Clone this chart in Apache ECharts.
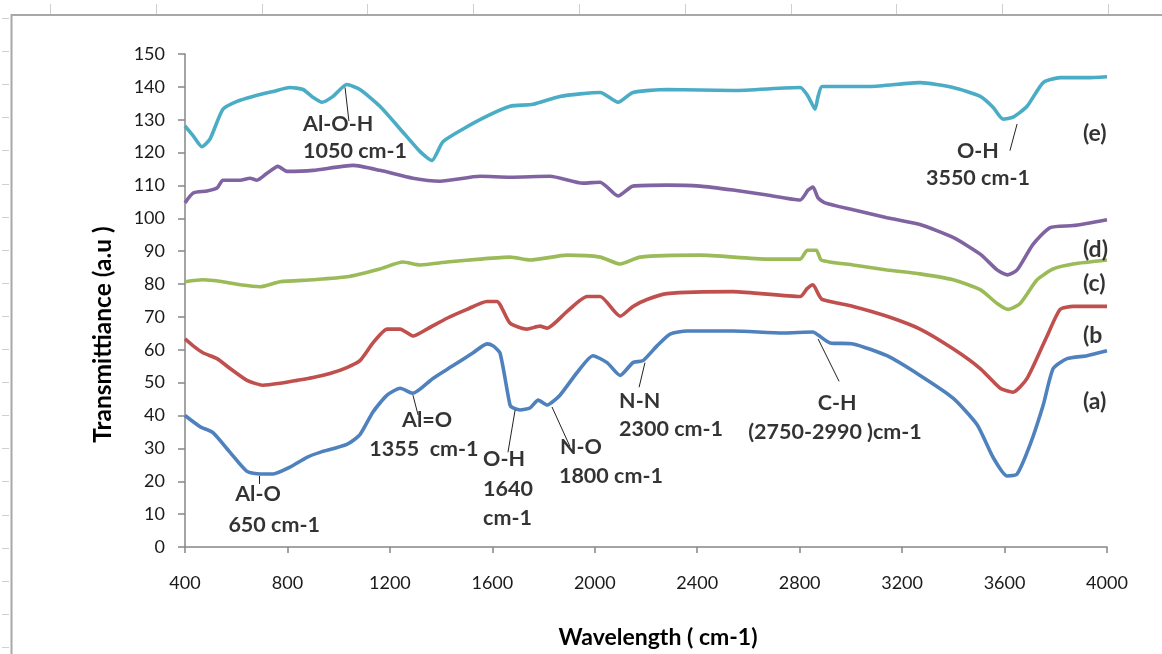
<!DOCTYPE html>
<html>
<head>
<meta charset="utf-8">
<script src="https://cdn.jsdelivr.net/npm/echarts@6/dist/echarts.min.js"></script>
<style>
html,body{margin:0;padding:0;background:#fff;}
#chart{width:1162px;height:654px;}
</style>
</head>
<body>
<div id="chart"></div>
<script>
// ---- data ----
const xTicks = [400, 4000, 400];   // min, max, interval
const yTicks = [0, 150, 10];

const waveA = [400,459,509,576,642,693,744,810,876,927,1032,1083,1134,1189,1240,1290,1368,1447,1525,1579,1603,1630,1669,1681,1708,1747,1779,1814,1864,1931,1993,2048,2099,2149,2188,2243,2294,2360,2540,2735,2852,2872,2919,3009,3141,3270,3399,3493,3555,3610,3649,3700,3751,3790,3844,3922,4000];
const transA = [40,36.6,34.8,28.8,23,22.2,22.2,24.3,27.3,28.8,31.2,34.2,41.1,46.2,48.3,46.8,51.3,55.2,59.1,61.8,61.2,59,43.2,42.3,41.7,42.3,44.7,43.2,46.2,53.1,58.2,56.1,52.2,56.1,56.7,61.2,64.8,65.7,65.7,65.1,65.4,64.5,62.1,61.8,58.2,52.2,45.3,37.2,27.3,21.6,22.2,31.2,43.2,54.3,57.3,58.2,59.7];

const waveB = [400,432,470,525,576,642,705,771,837,900,966,1032,1083,1134,1189,1240,1290,1345,1423,1501,1579,1618,1669,1735,1786,1814,1892,1970,2021,2099,2149,2204,2282,2540,2802,2829,2852,2872,2888,3009,3141,3270,3399,3505,3583,3633,3688,3766,3817,3868,4000];
const transB = [63.3,61.2,59.1,57.3,54.3,50.7,49.2,49.8,50.7,51.6,52.8,54.6,56.7,62.1,66.3,66.3,64.2,66.3,69.6,72.3,74.7,74.7,68.1,66.3,67.2,66.6,71.7,76.2,76.2,70.2,73.2,75.3,77.1,77.7,76.2,78.6,79.8,77.1,75.3,73.2,70.2,66.3,60.3,54.3,48.3,47.1,51.3,64.2,72.3,73.2,73.2];

const waveC = [400,470,548,615,693,771,900,1032,1161,1251,1318,1423,1552,1669,1747,1892,2021,2099,2177,2411,2673,2802,2830,2865,2885,3009,3141,3270,3399,3505,3571,3614,3661,3727,3790,3868,4000];
const transC = [80.7,81.3,80.7,79.8,79.2,80.7,81.3,82.2,84.6,86.7,85.8,86.7,87.6,88.2,87.3,88.8,88.2,86.1,88.2,88.8,87.6,87.6,90.3,90.3,87.3,85.8,84.3,83.1,81.3,78.3,74.1,72.3,74.1,81.3,84.6,86.1,87.3];

const waveD = [400,432,486,525,548,615,654,681,720,763,798,900,1056,1161,1290,1396,1552,1669,1825,1954,2021,2091,2149,2282,2411,2540,2673,2802,2833,2852,2872,2899,3009,3141,3270,3399,3505,3571,3610,3649,3711,3778,3868,4000];
const transD = [104.7,107.7,108.3,109.2,111.6,111.6,112.2,111.6,113.7,115.8,114.3,114.6,116.1,114.6,112.2,111.3,112.8,112.5,112.8,110.7,111,106.8,109.8,110.1,109.8,108.6,107.1,105.6,108.6,109.5,106.2,104.7,102.6,100.2,98.1,94.2,89.1,84.3,82.8,84.3,92.1,97.2,97.8,99.6];

const waveE = [400,432,466,498,548,603,665,744,810,861,900,935,978,1032,1083,1161,1240,1318,1364,1407,1486,1579,1669,1759,1864,2021,2091,2149,2282,2540,2802,2833,2860,2872,2888,3075,3270,3399,3505,3555,3594,3633,3688,3751,3817,3922,4000];
const transE = [128.1,125.1,121.8,124.2,133.2,135.6,137.1,138.6,139.8,139.2,136.8,135.3,137.1,140.7,139.2,134.1,127.2,120.3,117.6,123.3,127.2,131.1,134.1,134.7,137.1,138.3,135.3,138.3,139.2,138.9,139.8,137.1,133.2,137.1,140.1,140.1,141.3,139.8,137.1,133.8,130.2,130.8,134.1,141.3,142.8,142.8,143.1];

// annotation texts anchored in data coordinates [wavelength, transmittance]
const annoText  = ["Al-O-H","1050 cm-1","O-H","3550 cm-1","(e)","(d)","(c)","(b","(a)","Al-O","650 cm-1","Al=O","1355  cm-1","O-H","1640","cm-1","N-O","1800 cm-1","N-N","2300 cm-1","C-H","(2750-2990 )cm-1"];
const annoWave  = [861,861,3496,3496,3906,3906,3906,3906,3906,685,748,1345,1333,1564,1564,1564,1864,1860,2095,2095,2946,2938];
const annoTrans = [128.7,120.6,120.6,112.2,125.7,90.6,80.1,64.2,44.1,16.2,6.6,38.7,29.7,26.7,17.7,8.7,30.3,21.6,44.4,36.0,43.8,35.1];
const annoAlign = ["left","left","center","center","left","left","left","left","left","center","center","center","center","left","left","left","left","left","left","left","center","center"];

// leader lines [w1, t1, w2, t2]
const leaders = [
  [1025,139.8,1040,129.6],
  [3649,128.7,3621,120.6],
  [689,21.6,689,19.2],
  [1290,46.2,1310,40.2],
  [1689,41.7,1661,28.8],
  [1833,42.6,1903,30.6],
  [2196,56.1,2173,48.6],
  [2872,63.3,2954,50.4]
];

const zip = (w, t) => w.map((x, i) => [x, t[i]]);
const FONT = 'Lato, "Open Sans", sans-serif';

const lineSeries = [
  {name:'(a)', w:waveA, t:transA, color:'#4F81BD'},
  {name:'(b)', w:waveB, t:transB, color:'#C0504D'},
  {name:'(c)', w:waveC, t:transC, color:'#9BBB59'},
  {name:'(d)', w:waveD, t:transD, color:'#8064A2'},
  {name:'(e)', w:waveE, t:transE, color:'#4BACC6'}
].map(s => ({
  name: s.name, type:'line', data: zip(s.w, s.t), showSymbol:false, symbol:'none',
  smooth: 0.2, lineStyle:{color:s.color, width:3.6}, itemStyle:{color:s.color},
  animation:false, silent:true, z:2
}));

const annoSeries = {
  type:'scatter', symbolSize:0, animation:false, silent:true, z:5,
  data: annoText.map((txt, i) => ({
    value:[annoWave[i], annoTrans[i]],
    label:{show:true, position:'inside', formatter:txt, align:annoAlign[i], verticalAlign:'middle',
      fontFamily:FONT, fontSize:(txt[0]==='(' && txt.length<4)?23:21.5, fontWeight:'bold', color:'#000'}
  })),
  markLine:{
    silent:true, symbol:['none','none'], animation:false, label:{show:false},
    lineStyle:{color:'#222', width:1, type:'solid'},
    data: leaders.map(l => [{coord:[l[0],l[1]]},{coord:[l[2],l[3]]}])
  }
};

// page frame decoration (ruler-like border)
const deco = [];
deco.push({type:'polyline', shape:{points:[[11.5,654],[11.5,15],[1162,15]]}, style:{stroke:'#a8a8a8', lineWidth:2, fill:null}, silent:true});
for (let x = 50; x < 1162; x += 105.8) deco.push({type:'line', shape:{x1:Math.round(x)+0.5,y1:4,x2:Math.round(x)+0.5,y2:14}, style:{stroke:'#cfcfcf', lineWidth:1}, silent:true});
for (let y = 18; y < 654; y += 33.1) deco.push({type:'line', shape:{x1:2,y1:Math.round(y)+0.5,x2:9,y2:Math.round(y)+0.5}, style:{stroke:'#cfcfcf', lineWidth:1}, silent:true});

const chart = echarts.init(document.getElementById('chart'), null, {renderer:'canvas'});
chart.setOption({
  backgroundColor:'#fff',
  animation:false,
  grid:{left:185, right:55, top:54, bottom:100, containLabel:false},
  xAxis:{
    type:'value', min:xTicks[0], max:xTicks[1], interval:xTicks[2],
    name:'Wavelength ( cm-1)', nameLocation:'middle', nameGap:79,
    nameTextStyle:{fontFamily:FONT, fontSize:23, fontWeight:'bold', color:'#000', padding:[0,0,0,24]},
    axisLine:{lineStyle:{color:'#868686', width:1.5}},
    axisTick:{show:true, length:6, lineStyle:{color:'#868686', width:1.5}},
    axisLabel:{fontFamily:FONT, fontSize:18, color:'#1a1a1a', margin:27, formatter:v => String(v)},
    splitLine:{show:false}
  },
  yAxis:{
    type:'value', min:yTicks[0], max:yTicks[1], interval:yTicks[2],
    name:'Transmittiance (a.u )', nameLocation:'middle', nameGap:69, nameRotate:90,
    nameTextStyle:{fontFamily:FONT, fontSize:24.5, fontWeight:'bold', color:'#000', padding:[0,68,0,0]},
    axisLine:{show:true, lineStyle:{color:'#868686', width:1.5}},
    axisTick:{show:true, length:7, lineStyle:{color:'#868686', width:1.5}},
    axisLabel:{fontFamily:FONT, fontSize:18, color:'#1a1a1a', margin:20},
    splitLine:{show:false}
  },
  graphic: deco,
  series: lineSeries.concat([annoSeries])
});
</script>
</body>
</html>
